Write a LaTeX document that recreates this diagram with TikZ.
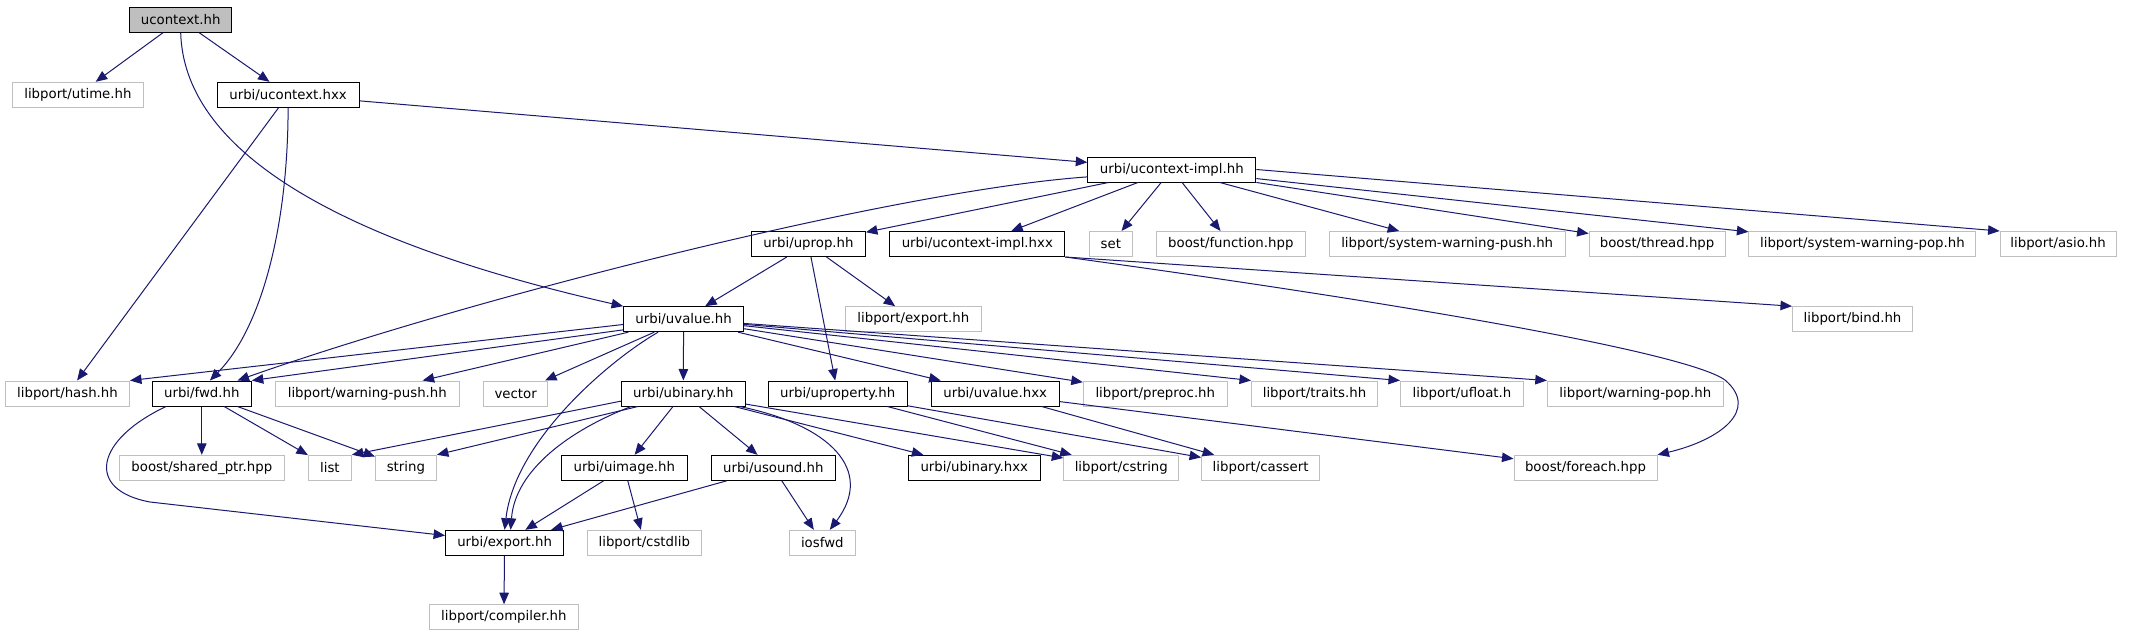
\documentclass[tikz,border=0pt]{standalone}
\usepackage{fontspec}
\setmainfont{DejaVu Sans}
\usetikzlibrary{arrows.meta}
\definecolor{edgeblue}{RGB}{25,25,112}
\definecolor{extgray}{RGB}{191,191,191}
\definecolor{rootgray}{RGB}{191,191,191}

\begin{document}
\begin{tikzpicture}[
  x=1pt, y=-1pt,
  font=\fontsize{13.3}{16}\selectfont,
  hdr/.style={draw=black,line width=1pt,fill=white,minimum height=25pt,inner sep=0pt},
  sys/.style={hdr,draw=extgray},
  root/.style={hdr,fill=rootgray},
  dep/.style={-{Triangle[length=11.5pt,width=9.5pt]},draw=edgeblue,line width=1pt}
]
\fill[white] (0,0) rectangle (2129,635);
\useasboundingbox (0,0) rectangle (2129,635);

% row 0
\node[root,minimum width=102pt] (ucontext) at (180.7,19.8) {ucontext.hh};
% row 1
\node[sys,minimum width=131pt] (utime) at (77.9,94.8) {libport/utime.hh};
\node[hdr,minimum width=142pt] (uctxhxx) at (288.1,94.8) {urbi/ucontext.hxx};
% row 2
\node[hdr,minimum width=168pt] (impl) at (1171.8,169.5) {urbi/ucontext-impl.hh};
% row 3
\node[hdr,minimum width=114pt] (uprop) at (808.4,244) {urbi/uprop.hh};
\node[hdr,minimum width=175pt] (implhxx) at (977.3,244) {urbi/ucontext-impl.hxx};
\node[sys,minimum width=43pt] (set) at (1110.9,244) {set};
\node[sys,minimum width=149pt] (function) at (1230.8,244) {boost/function.hpp};
\node[sys,minimum width=236pt] (swpush) at (1447.2,244) {libport/system-warning-push.hh};
\node[sys,minimum width=136pt] (thread) at (1657.1,244) {boost/thread.hpp};
\node[sys,minimum width=227pt] (swpop) at (1862.4,244) {libport/system-warning-pop.hh};
\node[sys,minimum width=116pt] (asio) at (2058.1,244) {libport/asio.hh};
% row 4
\node[hdr,minimum width=120pt] (uvalue) at (683.6,319.2) {urbi/uvalue.hh};
\node[sys,minimum width=135.5pt] (pexport) at (913.3,319.2) {libport/export.hh};
\node[sys,minimum width=120pt] (bind) at (1852.5,319.2) {libport/bind.hh};
% row 5
\node[sys,minimum width=124pt] (hash) at (67.5,393.5) {libport/hash.hh};
\node[hdr,minimum width=99pt] (fwd) at (201.8,393.5) {urbi/fwd.hh};
\node[sys,minimum width=184pt] (wpush) at (367.3,393.5) {libport/warning-push.hh};
\node[sys,minimum width=64pt] (vector) at (515.7,393.5) {vector};
\node[hdr,minimum width=124pt] (ubinary) at (683.3,393.5) {urbi/ubinary.hh};
\node[hdr,minimum width=139pt] (uproperty) at (837.7,393.5) {urbi/uproperty.hh};
\node[hdr,minimum width=128pt] (uvaluehxx) at (995.2,393.5) {urbi/uvalue.hxx};
\node[sys,minimum width=144pt] (preproc) at (1155.3,393.5) {libport/preproc.hh};
\node[sys,minimum width=126pt] (traits) at (1314.5,393.5) {libport/traits.hh};
\node[sys,minimum width=123pt] (ufloat) at (1462,393.5) {libport/ufloat.h};
\node[sys,minimum width=176pt] (wpop) at (1635.3,393.5) {libport/warning-pop.hh};
% row 6
\node[sys,minimum width=165pt] (sharedptr) at (201.8,467.8) {boost/shared\_ptr.hpp};
\node[sys,minimum width=43pt] (list) at (329.9,467.8) {list};
\node[sys,minimum width=61pt] (string) at (405.9,467.8) {string};
\node[hdr,minimum width=126pt] (uimage) at (624.3,467.8) {urbi/uimage.hh};
\node[hdr,minimum width=124pt] (usound) at (773.3,467.8) {urbi/usound.hh};
\node[hdr,minimum width=132pt] (ubinaryhxx) at (974.3,467.8) {urbi/ubinary.hxx};
\node[sys,minimum width=115pt] (cstring) at (1121.3,467.8) {libport/cstring};
\node[sys,minimum width=118pt] (cassert) at (1260.6,467.8) {libport/cassert};
\node[sys,minimum width=143pt] (foreach) at (1585.5,467.8) {boost/foreach.hpp};
% row 7
\node[hdr,minimum width=118pt] (export) at (504.6,542.8) {urbi/export.hh};
\node[sys,minimum width=114pt] (cstdlib) at (644.3,542.8) {libport/cstdlib};
\node[sys,minimum width=66pt] (iosfwd) at (822.3,542.8) {iosfwd};
% row 8
\node[sys,minimum width=149pt] (compiler) at (503.9,617.2) {libport/compiler.hh};

% ucontext.hh
\draw[dep] (ucontext) -- (utime);
\draw[dep] (ucontext) -- (uctxhxx);
\draw[dep] (ucontext.south) .. controls (185,180) and (420,260) .. (uvalue.north west);
% urbi/ucontext.hxx
\draw[dep] (uctxhxx) -- (impl);
\draw[dep] (uctxhxx) -- (hash);
\draw[dep] (uctxhxx.south) .. controls (288,230) and (260,330) .. (fwd.58);
% urbi/ucontext-impl.hh
\draw[dep] (impl.185) .. controls (900,190) and (480,295) .. (fwd.20);
\draw[dep] (impl) -- (uprop);
\draw[dep] (impl) -- (implhxx);
\draw[dep] (impl) -- (set);
\draw[dep] (impl) -- (function);
\draw[dep] (impl) -- (swpush);
\draw[dep] (impl) -- (thread);
\draw[dep] (impl) -- (swpop);
\draw[dep] (impl.east) -- (asio.north west);
% urbi/uprop.hh
\draw[dep] (uprop) -- (uvalue);
\draw[dep] (uprop) -- (uproperty);
\draw[dep] (uprop) -- (pexport);
% urbi/ucontext-impl.hxx
\draw[dep] (implhxx.south east) -- (bind.north west);
\draw[dep] (implhxx.south east) .. controls (1450,310) and (1690,355) .. (1725,380)
  .. controls (1760,410) and (1720,440) .. (foreach.north east);
% urbi/uvalue.hh
\draw[dep] (uvalue.185) -- (hash.north east);
\draw[dep] (uvalue.190) -- (fwd.north east);
\draw[dep] (uvalue) -- (wpush);
\draw[dep] (uvalue) -- (vector);
\draw[dep] (uvalue.207) .. controls (610,360) and (515,440) .. (export.north);
\draw[dep] (uvalue) -- (ubinary);
\draw[dep] (uvalue) -- (uvaluehxx);
\draw[dep] (uvalue) -- (preproc);
\draw[dep] (uvalue) -- (traits.north west);
\draw[dep] (uvalue) -- (ufloat.north west);
\draw[dep] (uvalue) -- (wpop.north west);
% urbi/fwd.hh
\draw[dep] (fwd) -- (sharedptr);
\draw[dep] (fwd) -- (list);
\draw[dep] (fwd) -- (string);
\draw[dep] (fwd.200) .. controls (95,440) and (85,490) .. (150,502) -- (export.173);
% urbi/ubinary.hh
\draw[dep] (ubinary.187) -- (list.north east);
\draw[dep] (ubinary.196) -- (string.north east);
\draw[dep] (ubinary.194) .. controls (570,430) and (515,470) .. (export.65);
\draw[dep] (ubinary) -- (uimage);
\draw[dep] (ubinary) -- (usound);
\draw[dep] (ubinary) -- (ubinaryhxx);
\draw[dep] (ubinary) -- (cstring);
\draw[dep] (ubinary.-13) .. controls (830,425) and (875,470) .. (iosfwd.60);
% urbi/uproperty.hh
\draw[dep] (uproperty) -- (cstring);
\draw[dep] (uproperty) -- (cassert);
% urbi/uvalue.hxx
\draw[dep] (uvaluehxx) -- (cassert);
\draw[dep] (uvaluehxx) -- (foreach);
% urbi/uimage.hh, urbi/usound.hh
\draw[dep] (uimage) -- (export);
\draw[dep] (uimage) -- (cstdlib);
\draw[dep] (usound) -- (export);
\draw[dep] (usound) -- (iosfwd);
% urbi/export.hh
\draw[dep] (export) -- (compiler);
\end{tikzpicture}
\end{document}
